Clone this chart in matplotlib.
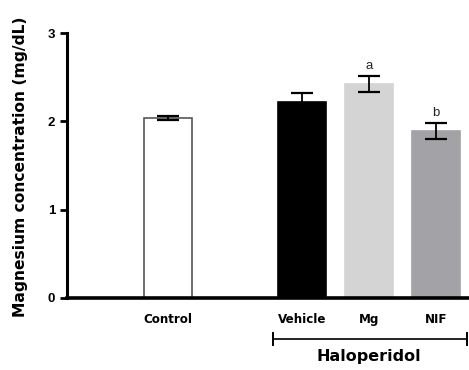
import matplotlib
matplotlib.use("Agg")
import matplotlib.pyplot as plt
import matplotlib.transforms as mtransforms

# Data
categories = ["Control", "Vehicle", "Mg", "NIF"]
means = [2.04, 2.22, 2.42, 1.89]
errors = [0.025, 0.10, 0.09, 0.09]
sig_labels = ["", "", "a", "b"]
bar_colors = ["#ffffff", "#000000", "#d4d4d4", "#a3a3a7"]
edge_colors = ["#555555", "#000000", "#d4d4d4", "#a3a3a7"]
positions = [0, 2, 3, 4]
group_label = "Haloperidol"
ylabel = "Magnesium concentration (mg/dL)"
yticks = [0, 1, 2, 3]

W, H = 469, 370
fig = plt.figure(figsize=(W / 100, H / 100), dpi=100)
ax = fig.add_axes([67 / W, 1 - 298 / H, (W - 67) / W, (298 - 33) / H])

ax.bar(positions, means, width=0.71, color=bar_colors, edgecolor=edge_colors,
       linewidth=1.2, zorder=2)
ax.errorbar(positions, means, yerr=errors, fmt="none", ecolor="black",
            elinewidth=1.3, capsize=8, capthick=1.6, zorder=3)

for p, m, e, s in zip(positions, means, errors, sig_labels):
    if s:
        ax.annotate(s, (p, m + e), xytext=(0, 3), textcoords="offset points",
                    ha="center", va="bottom", fontsize=9.5,
                    family="Liberation Sans", color="#222222")

ax.set_xlim(-1.507, 4.493)
ax.set_ylim(0, 3)
ax.set_yticks(yticks)
ax.set_yticklabels([str(t) for t in yticks], family="Liberation Sans",
                   fontweight="bold", fontsize=9.5)
ax.set_xticks(positions)
ax.set_xticklabels(categories, family="DejaVu Sans", fontweight="bold",
                   fontsize=8.6)
ax.tick_params(axis="x", length=0, pad=10.5)
ax.tick_params(axis="y", length=5, width=2, pad=3.5)

for side in ["top", "right"]:
    ax.spines[side].set_visible(False)
ax.spines["left"].set_linewidth(2.2)
ax.spines["bottom"].set_linewidth(2.6)
ax.spines["bottom"].set_zorder(4)

ax.set_ylabel(ylabel, family="DejaVu Sans", fontweight="bold", fontsize=11.2)
ax.yaxis.set_label_coords((28 - 67) / (W - 67), (298 - 167) / 265)

# Group bracket
trans = mtransforms.blended_transform_factory(ax.transData, ax.transAxes)
x0, x1 = 1.563, 4.46
yb = (298 - 339) / 265
ax.plot([x0, x1], [yb, yb], color="black", lw=1.2, transform=trans, clip_on=False)
for xx in (x0, x1):
    ax.plot([xx, xx], [yb - 0.022, yb + 0.022], color="black", lw=1.4,
            transform=trans, clip_on=False)
ax.text((x0 + x1) / 2 - 0.01, (298 - 356) / 265, group_label, transform=trans,
        ha="center", va="center", family="DejaVu Sans", fontweight="bold",
        fontsize=11.5)

fig.savefig("out.png", dpi=100)
